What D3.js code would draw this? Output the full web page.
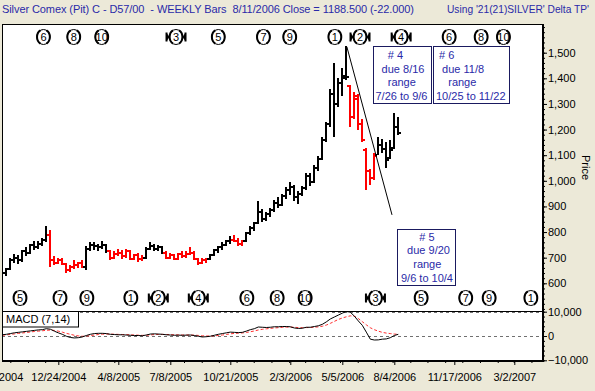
<!DOCTYPE html>
<html>
<head>
<meta charset="utf-8">
<script src="https://cdn.jsdelivr.net/npm/d3@7/dist/d3.min.js"></script>
<style>
  body { margin: 0; background: #ece9d8; }
  svg { display: block; font-family: "Liberation Sans", Arial, sans-serif; }
  text { white-space: pre; }
</style>
</head>
<body>
<div id="chart"></div>
<script>
// weekly bars, the first one is the week of 9/17/2004
const firstWeek = new Date(2004, 8, 17);

const opens = [625,640,655,690,700,690,725,720,750,740,
  755,770,790,690,680,690,675,650,665,670,
  680,665,735,750,745,740,750,725,700,715,
  720,705,725,695,710,695,700,735,745,735,
  740,720,700,710,695,715,705,715,720,695,
  680,690,695,710,730,740,750,765,770,765,
  755,765,795,815,835,880,850,870,885,915,
  905,940,965,975,935,950,970,1020,995,1050,
  1085,1160,1220,1340,1300,1380,1410,1370,1250,1320,
  1220,1120,1040,1010,1100,1140,1125,1090,1130,1210];
const highs = [645,660,700,715,710,730,740,755,765,765,
  775,825,808,705,700,700,680,670,690,685,
  690,745,760,760,755,765,755,730,725,735,
  730,735,730,715,720,710,740,760,755,750,
  745,725,720,715,720,725,725,740,725,700,
  700,700,715,735,745,760,770,785,790,775,
  770,800,825,840,920,890,880,895,925,935,
  950,975,995,985,960,980,1030,1030,1060,1095,
  1170,1230,1360,1460,1400,1440,1525,1375,1345,1340,
  1240,1130,1045,1110,1170,1165,1150,1160,1265,1250];
const lows = [615,630,650,680,675,685,705,715,730,735,
  745,760,665,670,675,670,640,645,655,660,
  660,652,725,730,725,735,720,690,695,705,
  695,700,690,690,685,688,695,730,725,725,
  715,695,695,690,690,700,700,710,690,670,
  675,680,690,705,720,730,745,755,760,745,
  745,760,790,805,830,840,845,860,880,895,
  900,930,945,920,910,940,965,980,990,1040,
  1080,1150,1210,1170,1290,1330,1395,1210,1240,1200,
  1150,965,985,1005,1100,1110,1050,1085,1125,1180];
const closes = [640,655,690,700,690,725,720,750,740,755,
  770,790,690,680,690,675,650,665,670,680,
  665,735,750,745,740,750,725,700,715,720,
  705,725,695,710,695,700,735,745,735,740,
  720,700,710,695,715,705,715,720,695,680,
  690,695,710,730,740,750,765,770,765,755,
  765,795,815,835,880,850,870,885,915,905,
  940,965,975,935,950,970,1020,995,1050,1085,
  1160,1220,1340,1300,1380,1400,1405,1250,1330,1220,
  1160,1040,1010,1095,1140,1125,1080,1120,1210,1188.5];
// runs of bar colours: [number of bars, colour]
const colorRuns = [[12,"black"],[9,"red"],[6,"black"],[9,"red"],[5,"black"],[11,"red"],
  [6,"black"],[3,"red"],[26,"black"],[7,"red"],[6,"black"]];

const macd = [500,700,1000,1300,1500,1700,1900,2100,2300,2500,
  2600,3000,2800,2000,1300,700,-100,-600,-800,-700,
  -400,200,700,1000,1100,1100,1000,700,600,500,
  500,400,300,200,200,100,400,800,900,800,
  700,500,400,300,350,300,350,400,200,-100,
  -400,-300,-100,300,700,1000,1300,1600,1500,1400,
  1500,2000,2600,3000,3700,3600,3500,3600,3800,3800,
  3900,3900,3800,3300,3100,3200,3600,3600,3900,4200,
  4800,5800,7000,7800,8600,9400,10100,9800,8200,6200,
  4400,1600,-1300,-1650,-1600,-1300,-1200,-700,200,700];
const signal = [300,450,650,850,1050,1250,1450,1650,1850,2000,
  2150,2350,2450,2300,2000,1600,1100,700,300,50,
  -100,-50,150,400,600,750,800,780,720,660,
  620,560,480,400,340,270,310,450,570,640,
  660,620,560,490,450,410,400,400,350,240,
  80,0,-20,60,200,400,630,880,1060,1170,
  1260,1450,1740,2060,2470,2750,2950,3130,3300,3430,
  3550,3640,3680,3590,3460,3410,3460,3500,3600,3760,
  4000,4500,5200,6000,6800,7400,7900,8300,8200,7200,
  5900,4600,3400,2600,2000,1500,1200,1000,800,700];

const xTickDates = ["2004-09-10","2004-12-24","2005-04-08","2005-07-08","2005-10-21",
  "2006-02-03","2006-05-05","2006-08-04","2006-11-17","2007-03-02"];
const xTickLabels = ["9/10/2004","12/24/2004","4/8/2005","7/8/2005","10/21/2005",
  "2/3/2006","5/5/2006","8/4/2006","11/17/2006","3/2/2007"];
const priceTicks = [600,700,800,900,1000,1100,1200,1300,1400,1500];
const macdTicks = [-10000,0,10000];

// cycle markers above and below the bars
const topCycleDates = ["2004-11-28","2005-01-20","2005-03-10","2005-07-18","2005-09-30","2005-12-18",
  "2006-02-02","2006-04-22","2006-06-05","2006-08-16","2006-11-08","2007-01-03","2007-02-11"];
const topCycleLabels = ["6","8","10","3","5","7","9","1","2","4","6","8","10"];
const topCycleMarked = [0,0,0,1,0,0,0,0,1,1,0,0,0];
const bottomCycleDates = ["2004-10-18","2004-12-27","2005-02-12","2005-04-30","2005-06-17","2005-08-26",
  "2005-11-19","2006-01-11","2006-03-01","2006-07-02","2006-09-20","2006-12-07","2007-01-17","2007-03-31"];
const bottomCycleLabels = ["5","7","9","1","2","4","6","8","10","3","5","7","9","1"];
const bottomCycleMarked = [0,0,0,0,1,1,0,0,0,1,0,0,0,0];

const trendDates = ["2006-05-13","2006-07-31"];
const trendPrices = [1523, 867];

const box4Lines = ["    # 4","  due 8/16","    range","7/26 to 9/6"];
const box6Lines = [" # 6","  due 11/8","    range","10/25 to 11/22"];
const box5Lines = ["      # 5","  due 9/20","    range","9/6 to 10/4"];

const titleText = "Silver Comex (Pit) C - D57/00  - WEEKLY Bars  8/11/2006 Close = 1188.500 (-22.000)";
const titleRight = "Using '21(21)SILVER' Delta TP'";

const parse = d3.timeParse("%Y-%m-%d");
const blue = "#2a2aa8";

const W = 595, H = 391;
const pL = 2, pR = 543, pT = 24, pMid = 311, pB = 361;

const svg = d3.select("#chart").append("svg")
  .attr("width", W).attr("height", H);

svg.append("rect").attr("width", W).attr("height", H).attr("fill", "#ece9d8");

// scales
const x = d3.scaleTime()
  .domain([firstWeek, new Date(2007, 3, 20)])
  .range([2.3, 542.3]);
const y = d3.scaleLinear().domain([600, 1500]).range([283.3, 52.7]);
const yM = d3.scaleLinear().domain([-10000, 10000]).range([360.3, 311.7]);

// panels
svg.append("rect").attr("x", pL + 0.5).attr("y", pT + 0.5).attr("width", pR - pL).attr("height", pMid - pT)
  .attr("fill", "#fff").attr("stroke", "#000");
svg.append("rect").attr("x", pL + 0.5).attr("y", pMid + 0.5).attr("width", pR - pL).attr("height", pB - pMid)
  .attr("fill", "#fff").attr("stroke", "#000");

const defs = svg.append("defs");
defs.append("clipPath").attr("id", "clipMain").append("rect")
  .attr("x", pL + 1).attr("y", pT + 1).attr("width", pR - pL - 1).attr("height", pMid - pT - 1);
defs.append("clipPath").attr("id", "clipMacd").append("rect")
  .attr("x", pL + 1).attr("y", pMid).attr("width", pR - pL - 1).attr("height", pB - pMid);

// bars
const colors = colorRuns.flatMap(r => d3.range(r[0]).map(() => r[1]));
const bars = opens.map((o, i) => ({
  date: d3.timeDay.offset(firstWeek, 7 * i),
  open: o, high: highs[i], low: lows[i], close: closes[i], color: colors[i]
}));

const gBars = svg.append("g").attr("clip-path", "url(#clipMain)")
  .attr("shape-rendering", "crispEdges").attr("stroke-width", 2);
bars.forEach(d => {
  const bx = Math.round(x(d.date));
  const g = gBars.append("g").attr("stroke", d.color);
  g.append("line").attr("x1", bx).attr("x2", bx).attr("y1", Math.round(y(d.high))).attr("y2", Math.round(y(d.low)));
  g.append("line").attr("x1", bx - 3).attr("x2", bx - 1).attr("y1", Math.round(y(d.open))).attr("y2", Math.round(y(d.open)));
  g.append("line").attr("x1", bx + 1).attr("x2", bx + 3).attr("y1", Math.round(y(d.close))).attr("y2", Math.round(y(d.close)));
});

// trend line
svg.append("line").attr("clip-path", "url(#clipMain)")
  .attr("x1", x(parse(trendDates[0]))).attr("y1", y(trendPrices[0]))
  .attr("x2", x(parse(trendDates[1]))).attr("y2", y(trendPrices[1]))
  .attr("stroke", "#000").attr("stroke-width", 1);

// cycle circles
function drawCycles(dates, labels, marked, cy) {
  const g = svg.append("g").attr("clip-path", "url(#clipMain)");
  dates.forEach((d, i) => {
    const c = g.append("g").attr("transform", `translate(${x(parse(d))},${cy})`);
    c.append("ellipse").attr("rx", 6.5).attr("ry", 7.5).attr("fill", "#fff").attr("stroke", "#000");
    c.append("path").attr("d", "M-3,-6.6A6.5,7.5 0 0 0 -3,6.6").attr("fill", "none").attr("stroke", "#000").attr("stroke-width", 2);
    c.append("path").attr("d", "M3,-6.6A6.5,7.5 0 0 1 3,6.6").attr("fill", "none").attr("stroke", "#000").attr("stroke-width", 2);
    c.append("text").attr("text-anchor", "middle").attr("y", 4).attr("font-size", 11).text(labels[i]);
    if (marked[i]) {
      [-1, 1].forEach(s => {
        c.append("line").attr("x1", s * 9.5).attr("x2", s * 9.5).attr("y1", -4.5).attr("y2", 4.5)
          .attr("stroke", "#000").attr("stroke-width", 2);
        c.append("path").attr("d", `M${s * 9},-3.5L${s * 9},3.5L${s * 6.5},0Z`).attr("fill", "#000");
      });
    }
  });
}
drawCycles(topCycleDates, topCycleLabels, topCycleMarked, 37);
drawCycles(bottomCycleDates, bottomCycleLabels, bottomCycleMarked, 298);

// projection boxes
function drawBox(bx, by, bw, bh, lines, tx, ty) {
  svg.append("rect").attr("x", bx + 0.5).attr("y", by + 0.5).attr("width", bw).attr("height", bh)
    .attr("fill", "#fff").attr("stroke", "#1a1a60");
  lines.forEach((t, i) => {
    svg.append("text").attr("x", tx).attr("y", ty + i * 13.7)
      .attr("font-size", 11).attr("fill", blue).text(t);
  });
}
drawBox(373, 46, 58, 57, box4Lines, 375.5, 59);
drawBox(433, 46, 76, 57, box6Lines, 436, 59);
drawBox(397, 229, 58, 56, box5Lines, 401, 240.5);

// macd panel
const gM = svg.append("g").attr("clip-path", "url(#clipMacd)");
macdTicks.forEach(v => {
  gM.append("line").attr("x1", pL).attr("x2", pR).attr("y1", Math.round(yM(v)) + 0.5).attr("y2", Math.round(yM(v)) + 0.5)
    .attr("stroke", "#707070").attr("stroke-dasharray", "3,3");
});
const line = d3.line().x((d, i) => x(bars[i].date)).y(d => yM(d));
gM.append("path").datum(signal).attr("d", line).attr("fill", "none")
  .attr("stroke", "#ff3030").attr("stroke-dasharray", "3,2");
gM.append("path").datum(macd).attr("d", line).attr("fill", "none").attr("stroke", "#000");

svg.append("rect").attr("x", pL + 0.5).attr("y", pMid + 0.5).attr("width", 76).attr("height", 15.5)
  .attr("fill", "#fff").attr("stroke", "#000");
svg.append("text").attr("x", 6).attr("y", 323).attr("font-size", 11).text("MACD (7,14)");

// axes
function styleAxis(g) {
  g.select(".domain").remove();
  g.selectAll("text").attr("font-size", 11).attr("font-family", "Liberation Sans, Arial, sans-serif").attr("fill", "#000");
}
svg.append("g").attr("transform", `translate(${pR},0)`)
  .call(d3.axisRight(y).tickValues(d3.range(500, 1620, 20)).tickSize(2).tickFormat(""))
  .call(g => g.select(".domain").remove());
svg.append("g").attr("transform", `translate(${pR},0)`)
  .call(d3.axisRight(y).tickValues(priceTicks).tickSize(4).tickPadding(1).tickFormat(d3.format(",")))
  .call(styleAxis);
svg.append("g").attr("transform", `translate(${pR},0)`)
  .call(d3.axisRight(yM).tickValues(d3.range(-10000, 10001, 2000)).tickSize(2).tickFormat(""))
  .call(g => g.select(".domain").remove());
svg.append("g").attr("transform", `translate(${pR},0)`)
  .call(d3.axisRight(yM).tickValues(macdTicks).tickSize(4).tickPadding(1).tickFormat(d3.format(",")))
  .call(styleAxis);

svg.append("g").attr("transform", `translate(0,${pB})`)
  .call(d3.axisBottom(x).ticks(d3.timeMonth.every(1)).tickSize(2).tickFormat(""))
  .call(g => g.select(".domain").remove());
svg.append("g").attr("transform", `translate(0,${pB})`)
  .call(d3.axisBottom(x).tickValues(xTickDates.map(parse)).tickSize(4).tickPadding(8)
    .tickFormat((d, i) => xTickLabels[i]))
  .call(styleAxis);

// thick right and bottom frame lines
svg.append("line").attr("x1", pR).attr("x2", pR).attr("y1", pT).attr("y2", pB + 1)
  .attr("stroke", "#000").attr("stroke-width", 2);
svg.append("line").attr("x1", pL).attr("x2", pR).attr("y1", pB).attr("y2", pB)
  .attr("stroke", "#000").attr("stroke-width", 2);

svg.append("text").attr("transform", "translate(582,155) rotate(90)")
  .attr("font-size", 11).text("Price");

// header
svg.append("text").attr("x", 2).attr("y", 13).attr("font-size", 11).attr("fill", blue)
  .attr("textLength", 412).attr("lengthAdjust", "spacing").text(titleText);
svg.append("text").attr("x", 447).attr("y", 13).attr("font-size", 11).attr("fill", blue)
  .attr("textLength", 142).attr("lengthAdjust", "spacingAndGlyphs").text(titleRight);
</script>
</body>
</html>
